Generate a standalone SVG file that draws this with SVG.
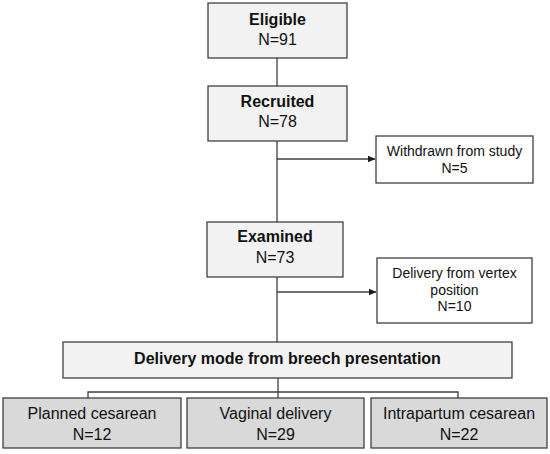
<svg xmlns="http://www.w3.org/2000/svg" width="550" height="454" viewBox="0 0 550 454">
<style>
  .light { fill: #f2f2f2; stroke: #404040; stroke-width: 1.3; }
  .dark { fill: #d9d9d9; stroke: #404040; stroke-width: 1.3; }
  .white { fill: #ffffff; stroke: #404040; stroke-width: 1.3; }
  text { font-family: "Liberation Sans", Arial, sans-serif; fill: #111; text-anchor: middle; }
  .b16 { font-size: 16px; font-weight: bold; }
  .r16 { font-size: 16px; }
  .r14 { font-size: 14px; }
  .conn { stroke: #404040; stroke-width: 1.3; fill: none; }
</style>
<defs>
  <marker id="arr" markerWidth="8" markerHeight="8" refX="7" refY="4" orient="auto" markerUnits="userSpaceOnUse">
    <path d="M0,0.8 L7.5,4 L0,7.2 Z" fill="#1a1a1a"/>
  </marker>
</defs>
<g id="connectors">
  <line class="conn" x1="277" y1="58" x2="277" y2="86"/>
  <line class="conn" x1="277" y1="141" x2="277" y2="222"/>
  <line class="conn" x1="277" y1="277" x2="277" y2="342"/>
  <line class="conn" x1="277" y1="159" x2="375" y2="159" marker-end="url(#arr)"/>
  <line class="conn" x1="277" y1="292" x2="376" y2="292" marker-end="url(#arr)"/>
  <line class="conn" x1="278" y1="378" x2="278" y2="398"/>
  <polyline class="conn" points="88,398 88,392 458,392 458,398"/>
</g>
<g id="eligible">
  <rect class="light" x="208" y="3" width="139" height="55"/>
  <text class="b16" x="277.5" y="25">Eligible</text>
  <text class="r16" x="277.5" y="45">N=91</text>
</g>
<g id="recruited">
  <rect class="light" x="208" y="86" width="139" height="55"/>
  <text class="b16" x="277.5" y="107">Recruited</text>
  <text class="r16" x="277.5" y="127">N=78</text>
</g>
<g id="withdrawn">
  <rect class="white" x="376" y="136" width="157" height="47"/>
  <text class="r14" x="454.5" y="156">Withdrawn from study</text>
  <text class="r14" x="454.5" y="173">N=5</text>
</g>
<g id="examined">
  <rect class="light" x="207" y="222" width="136" height="55"/>
  <text class="b16" x="275" y="242">Examined</text>
  <text class="r16" x="275" y="263">N=73</text>
</g>
<g id="vertex">
  <rect class="white" x="377" y="258" width="155" height="65"/>
  <text class="r14" x="454.5" y="278">Delivery from vertex</text>
  <text class="r14" x="454.5" y="294.5">position</text>
  <text class="r14" x="454.5" y="311">N=10</text>
</g>
<g id="delivery-mode">
  <rect class="light" x="63" y="342" width="449" height="36"/>
  <text class="b16" x="287.5" y="363.5">Delivery mode from breech presentation</text>
</g>
<g id="planned">
  <rect class="dark" x="3" y="398" width="178" height="50"/>
  <text class="r16" x="92" y="419">Planned cesarean</text>
  <text class="r16" x="92" y="440">N=12</text>
</g>
<g id="vaginal">
  <rect class="dark" x="187" y="398" width="177" height="50"/>
  <text class="r16" x="275.5" y="419">Vaginal delivery</text>
  <text class="r16" x="275.5" y="440">N=29</text>
</g>
<g id="intrapartum">
  <rect class="dark" x="371" y="398" width="176" height="50"/>
  <text class="r16" x="459" y="419">Intrapartum cesarean</text>
  <text class="r16" x="459" y="440">N=22</text>
</g>
</svg>
